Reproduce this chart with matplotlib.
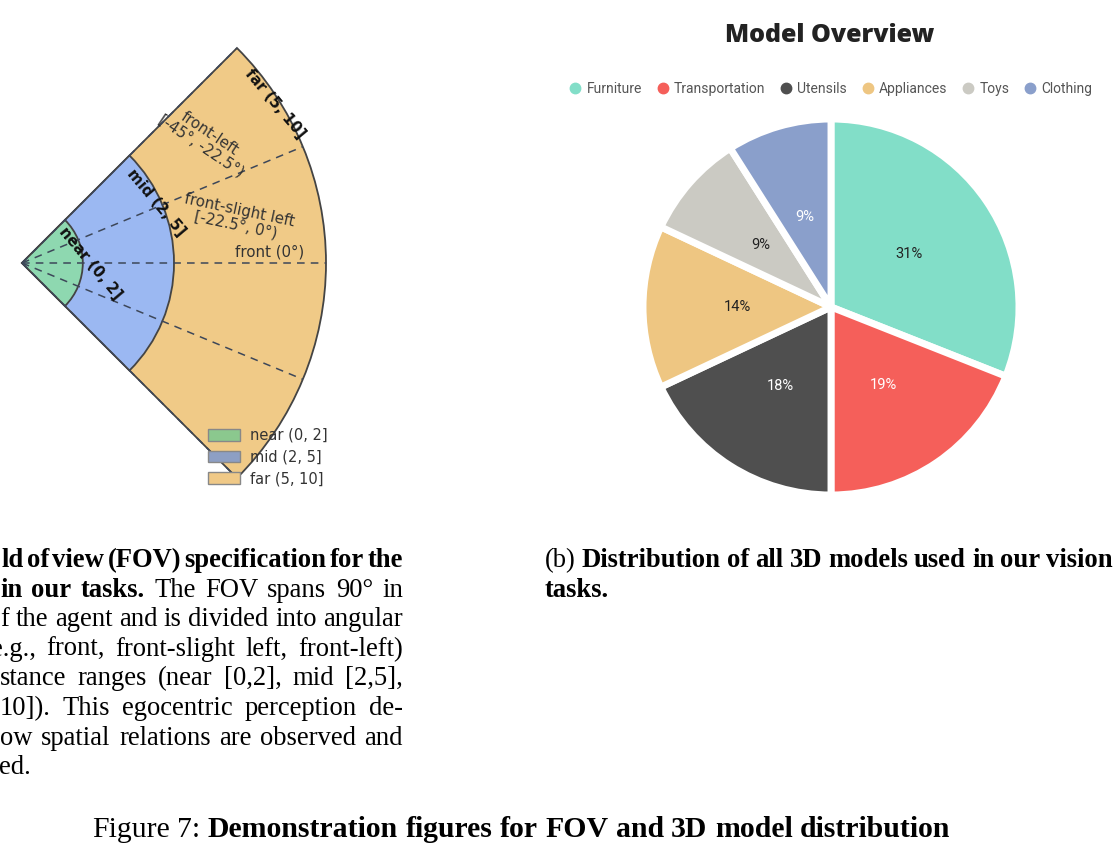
import matplotlib.pyplot as plt
from matplotlib.patches import Wedge, Patch
from matplotlib.lines import Line2D
import numpy as np

W, H = 1116, 861

# --- left panel: field of view
ring_labels = ['near (0, 2]', 'mid (2, 5]', 'far (5, 10]']
ring_radii = [2, 5, 10]
ring_colors = ['#8ed8b0', '#9bb8f2', '#f0ca87']
legend_colors = ['#8bc88e', '#8d9fc4', '#f0c987']
ray_angles = [-45, -22.5, 0, 22.5, 45]   # negative = towards the left of the agent

# --- right panel: model distribution
categories = ['Furniture', 'Transportation', 'Utensils', 'Appliances', 'Toys', 'Clothing']
shares = [31, 19, 18, 14, 9, 9]
pie_colors = ['#82dec8', '#f55f5a', '#4f4f4f', '#eec682', '#cbcac3', '#8a9fcb']
pct_colors = ['#222222', 'white', 'white', '#222222', '#222222', 'white']

fig = plt.figure(figsize=(W / 100, H / 100), dpi=100)


def px_axes(x0, y0, x1, y1):
    return fig.add_axes([x0 / W, 1 - y1 / H, (x1 - x0) / W, (y1 - y0) / H])


# ---------------- FOV fan
scale = 30.4  # px per unit distance
ax = px_axes(0, 30, 340, 500)
ax.set_xlim(-22 / scale, (340 - 22) / scale)
ax.set_ylim((263 - 500) / scale, (263 - 30) / scale)
ax.axis('off')

for r, c in sorted(zip(ring_radii, ring_colors), reverse=True):
    ax.add_patch(Wedge((0, 0), r, -45, 45, facecolor=c, edgecolor='#444444', lw=1.3))

for a in ray_angles:
    t = np.deg2rad(-a)
    ax.plot([0, 10 * np.cos(t)], [0, 10 * np.sin(t)], color='#3d4759', lw=1.1,
            dashes=(5, 4))

# ring labels
for lab, (x, y) in zip(ring_labels, [(2.25, 0.0), (4.4, 2.0), (8.32, 5.23)]):
    ax.text(x, y, lab, rotation=-50, fontsize=10.8, fontweight='bold', color='#111111',
            ha='center', va='center', rotation_mode='anchor')

# sector labels
ax.text(6.02, 4.05, 'front-left\n[-45°, -22.5°)', rotation=-33.75, fontsize=10.8,
        color='#333333', ha='center', va='center', rotation_mode='anchor', linespacing=1.0)
ax.text(7.1, 1.48, 'front-slight left\n[-22.5°, 0°)', rotation=-12, fontsize=10.8,
        color='#333333', ha='center', va='center', rotation_mode='anchor', linespacing=1.0)
ax.text(8.16, 0.36, 'front (0°)', fontsize=10.8, color='#333333', ha='center', va='center')

handles = [Patch(facecolor=c, edgecolor='#888888', label=l) for c, l in zip(legend_colors, ring_labels)]
ax.legend(handles=handles, loc='upper left', bbox_to_anchor=(208 / W, 1 - 428 / H),
          bbox_transform=fig.transFigure, frameon=False, fontsize=10.5, handlelength=2.2,
          handleheight=0.8, labelspacing=0.45, handletextpad=0.7, borderpad=0,
          borderaxespad=0, labelcolor='#333333')

# ---------------- pie
R = 188
cx, cy = 831, 307
pax = px_axes(cx - 1.1 * R, cy - 1.1 * R, cx + 1.1 * R, cy + 1.1 * R)
wedges, texts, autotexts = pax.pie(
    shares, colors=pie_colors, startangle=90, counterclock=False,
    wedgeprops=dict(edgecolor='white', linewidth=5, joinstyle='round'),
    autopct='%.0f%%', pctdistance=0.5,
    textprops=dict(family='Roboto', fontsize=10.5))
for t, c in zip(autotexts, pct_colors):
    t.set_color(c)
pax.set_xlim(-1.1, 1.1)
pax.set_ylim(-1.1, 1.1)
pax.set_aspect('equal')

fig.text(830 / W, 1 - 35 / H, 'Model Overview', ha='center', va='center', fontsize=18,
         fontweight='heavy', family='Open Sans', color='#222222')

dots = [Line2D([], [], marker='o', ls='', markersize=7.5, markerfacecolor=c, markeredgecolor=c,
               label=n) for c, n in zip(pie_colors, categories)]
fig.legend(handles=dots, loc='center', bbox_to_anchor=(831 / W, 1 - 89 / H), ncol=6,
           frameon=False, prop=dict(family='Roboto', size=10), handlelength=0.8,
           handletextpad=0.4, columnspacing=1.1, labelcolor='#555555')

# ---------------- captions
renderer = fig.canvas.get_renderer()


def line(x0, y, segs, x1=None, size=19.2):
    """Draw words left to right; if x1 is given, spread them to fill [x0, x1]."""
    words = [(w, wt) for s, wt in segs for w in s.split(' ') if w]
    objs, widths = [], []
    for w, wt in words:
        t = fig.text(0, 1 - y / H, w, fontweight=wt, family='Liberation Serif',
                     fontsize=size, ha='left', va='baseline', color='black')
        objs.append(t)
        widths.append(t.get_window_extent(renderer).width)
    gap = size * 100 / 72 * 0.25
    if x1 is not None and len(words) > 1:
        gap = (x1 - x0 - sum(widths)) / (len(words) - 1)
    cur = x0
    for t, w in zip(objs, widths):
        t.set_x(cur / W)
        cur += w + gap


left_lines = [
    (1, [('ld of view (FOV) specification for the', 'bold')]),
    (0, [('in our tasks.', 'bold'), ('The FOV spans 90° in', 'normal')]),
    (0, [('f the agent and is divided into angular', 'normal')]),
    (-9, [('e.g., front, front-slight left, front-left)', 'normal')]),
    (0, [('stance ranges (near [0,2], mid [2,5],', 'normal')]),
    (0, [('10]).  This egocentric perception de-', 'normal')]),
    (0, [('ow spatial relations are observed and', 'normal')]),
]
for i, (x0, segs) in enumerate(left_lines):
    line(x0, 567 + 29.6 * i, segs, x1=403)
line(-1, 567 + 29.6 * 7, [('ed.', 'normal')])

line(545, 567, [('(b)', 'normal'), ('Distribution of all 3D models used in our vision', 'bold')], x1=1113)
line(545, 596.6, [('tasks.', 'bold')])

line(92, 837, [('Figure 7:', 'normal'),
               ('Demonstration figures for FOV and 3D model distribution', 'bold')], size=21.4)

fig.savefig('out.png', dpi=100)
